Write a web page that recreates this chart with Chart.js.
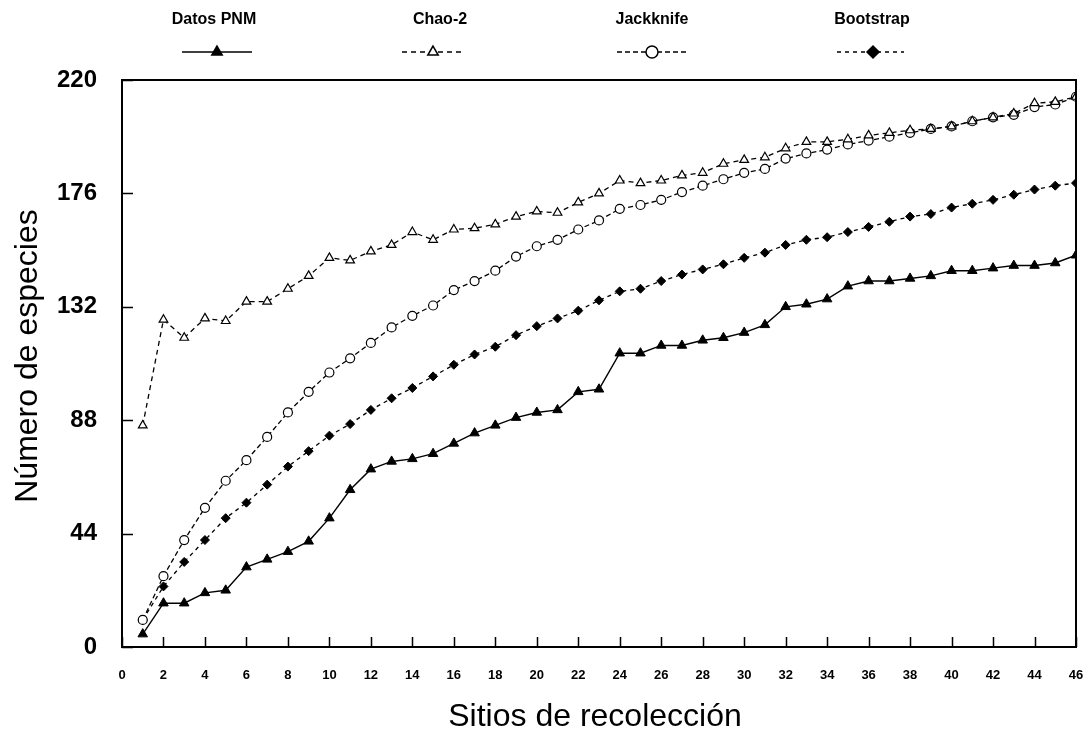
<!DOCTYPE html>
<html>
<head>
<meta charset="utf-8">
<script src="https://cdn.jsdelivr.net/npm/chart.js@4.4.1/dist/chart.umd.min.js"></script>
<style>
    html, body { margin: 0; padding: 0; background: #fff; }
</style>
</head>
<body>
<canvas id="grafico" width="1087" height="735"></canvas>
<script>
const sitios = [1, 2, 3, 4, 5, 6, 7, 8, 9, 10, 11, 12, 13, 14, 15, 16, 17, 18, 19, 20, 21, 22, 23,
    24, 25, 26, 27, 28, 29, 30, 31, 32, 33, 34, 35, 36, 37, 38, 39, 40, 41, 42, 43, 44, 45, 46];

const datosPNM = [5, 17, 17, 21, 22, 31, 34, 37, 41, 50, 61, 69, 72, 73, 75, 79, 83, 86, 89, 91,
    92, 99, 100, 114, 114, 117, 117, 119, 120, 122, 125, 132, 133, 135, 140, 142, 142, 143, 144, 146,
    146, 147, 148, 148, 149, 152];
const chao2 = [86, 127, 120, 127.5, 126.5, 134, 134, 139, 144, 151, 150, 153.5, 156, 161, 158, 162, 162.5, 164, 167, 169,
    168.5, 172.5, 176, 181, 180, 181, 183, 184, 187.5, 189, 190, 193.5, 196, 196, 197, 198.5, 199.5, 200.5, 201, 202,
    204, 205.5, 207, 211, 211.5, 213.5];
const jackknife = [10.5, 27.5, 41.5, 54, 64.5, 72.5, 81.5, 91, 99, 106.5, 112, 118, 124, 128.5, 132.5, 138.5, 142, 146, 151.5, 155.5,
    158, 162, 165.5, 170, 171.5, 173.5, 176.5, 179, 181.5, 184, 185.5, 189.5, 191.5, 193, 195, 196.5, 198, 199.5, 201, 202,
    204, 205.5, 206.5, 209.5, 210.5, 213.5];
const bootstrap = [10.5, 23.5, 33, 41.5, 50, 56, 63, 70, 76, 82, 86.5, 92, 96.5, 100.5, 105, 109.5, 113.5, 116.5, 121, 124.5,
    127.5, 130.5, 134.5, 138, 139, 142, 144.5, 146.5, 148.5, 151, 153, 156, 158, 159, 161, 163, 165, 167, 168, 170.5,
    172, 173.5, 175.5, 177.5, 179, 180];

const yTicks = [0, 44, 88, 132, 176, 220];
const xTicks = [0, 2, 4, 6, 8, 10, 12, 14, 16, 18, 20, 22, 24, 26, 28, 30, 32, 34, 36, 38, 40, 42, 44, 46];

const fuente = '"Liberation Sans", Arial, sans-serif';

function puntos(valores) {
    return valores.map((v, i) => ({ x: sitios[i], y: v }));
}

// leyenda: texto arriba, muestra de linea y marcador abajo
const leyenda = [
    { texto: "Datos PNM", tx: 214, x1: 182, x2: 252, mx: 217, estilo: "triangle", relleno: true, dash: [] },
    { texto: "Chao-2", tx: 440, x1: 402, x2: 465, mx: 433, estilo: "triangle", relleno: false, dash: [5, 4] },
    { texto: "Jackknife", tx: 652, x1: 617, x2: 688, mx: 652, estilo: "circle", relleno: false, dash: [5, 3] },
    { texto: "Bootstrap", tx: 872, x1: 837, x2: 904, mx: 873, estilo: "rectRot", relleno: true, dash: [4, 4] },
];

const marco = {
    id: "marco",
    afterDraw(chart) {
        const ctx = chart.ctx;
        const a = chart.chartArea;
        const sx = chart.scales.x;
        const sy = chart.scales.y;
        ctx.save();
        ctx.strokeStyle = "#000";
        ctx.lineWidth = 2;
        ctx.setLineDash([]);
        ctx.strokeRect(a.left, a.top, a.right - a.left, a.bottom - a.top);

        // marcas hacia adentro
        ctx.lineWidth = 1.5;
        ctx.beginPath();
        xTicks.forEach((t) => {
            const px = Math.round(sx.getPixelForValue(t)) + 0.5;
            ctx.moveTo(px, a.bottom);
            ctx.lineTo(px, a.bottom - 10);
        });
        yTicks.forEach((t) => {
            const py = Math.round(sy.getPixelForValue(t)) + 0.5;
            ctx.moveTo(a.left, py);
            ctx.lineTo(a.left + 11, py);
        });
        ctx.stroke();

        // titulos de ejes
        ctx.fillStyle = "#000";
        ctx.font = "32px " + fuente;
        ctx.textAlign = "center";
        ctx.textBaseline = "alphabetic";
        ctx.fillText("Sitios de recolección", (a.left + a.right) / 2 - 4, 726);
        ctx.save();
        ctx.translate(37, 356);
        ctx.rotate(-Math.PI / 2);
        ctx.fillText("Número de especies", 0, 0);
        ctx.restore();

        // leyenda
        leyenda.forEach((it) => {
            ctx.font = "bold 16px " + fuente;
            ctx.textBaseline = "middle";
            ctx.fillStyle = "#000";
            ctx.fillText(it.texto, it.tx, 20);
            ctx.lineWidth = 1.5;
            ctx.setLineDash(it.dash);
            ctx.beginPath();
            ctx.moveTo(it.x1, 52);
            ctx.lineTo(it.x2, 52);
            ctx.stroke();
            ctx.setLineDash([]);
            ctx.fillStyle = it.relleno ? "#000" : "#fff";
            Chart.helpers.drawPoint(ctx, { pointStyle: it.estilo, radius: 6, rotation: 0, borderWidth: 1.3 }, it.mx, 52);
        });
        ctx.restore();
    },
};

const grafico = document.getElementById("grafico");

new Chart(grafico, {
    type: "line",
    data: {
        datasets: [
            {
                label: "Datos PNM",
                data: puntos(datosPNM),
                borderColor: "#000",
                borderWidth: 1.4,
                pointStyle: "triangle",
                pointRadius: 5.5,
                pointBackgroundColor: "#000",
                pointBorderColor: "#000",
                pointBorderWidth: 1,
            },
            {
                label: "Chao-2",
                data: puntos(chao2),
                borderColor: "#000",
                borderWidth: 1.3,
                borderDash: [5, 4],
                pointStyle: "triangle",
                pointRadius: 5,
                pointBackgroundColor: "#fff",
                pointBorderColor: "#000",
                pointBorderWidth: 1.2,
            },
            {
                label: "Jackknife",
                data: puntos(jackknife),
                borderColor: "#000",
                borderWidth: 1.3,
                borderDash: [5, 3],
                pointStyle: "circle",
                pointRadius: 4.5,
                pointBackgroundColor: "#fff",
                pointBorderColor: "#000",
                pointBorderWidth: 1.2,
            },
            {
                label: "Bootstrap",
                data: puntos(bootstrap),
                borderColor: "#000",
                borderWidth: 1.3,
                borderDash: [4, 4],
                pointStyle: "rectRot",
                pointRadius: 4.5,
                pointBackgroundColor: "#000",
                pointBorderColor: "#000",
                pointBorderWidth: 1,
            },
        ],
    },
    options: {
        responsive: false,
        animation: false,
        layout: { padding: { top: 80, right: 11, left: 0, bottom: 0 } },
        plugins: {
            legend: { display: false },
            tooltip: { enabled: false },
        },
        scales: {
            x: {
                type: "linear",
                min: 0,
                max: 46,
                afterBuildTicks: (s) => { s.ticks = xTicks.map((v) => ({ value: v })); },
                ticks: {
                    autoSkip: false,
                    maxRotation: 0,
                    padding: 21,
                    color: "#000",
                    font: { family: fuente, size: 13, weight: "bold" },
                },
                grid: { display: false, drawTicks: false },
                border: { display: false },
                afterFit: (s) => {
                    s.height = 88;
                    s.paddingLeft = 0;
                    s.paddingRight = 0;
                },
            },
            y: {
                min: 0,
                max: 220,
                afterBuildTicks: (s) => { s.ticks = yTicks.map((v) => ({ value: v })); },
                ticks: {
                    padding: 25,
                    color: "#000",
                    font: { family: fuente, size: 24, weight: "bold" },
                },
                grid: { display: false, drawTicks: false },
                border: { display: false },
                afterFit: (s) => { s.width = 122; },
            },
        },
    },
    plugins: [marco],
});
</script>
</body>
</html>
